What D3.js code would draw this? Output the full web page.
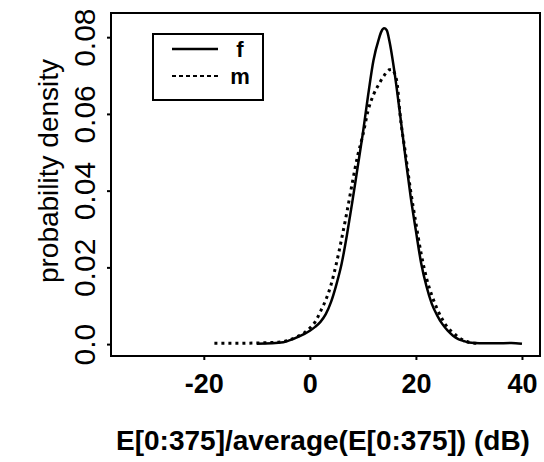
<!DOCTYPE html>
<html>
<head>
<meta charset="utf-8">
<script src="https://cdn.jsdelivr.net/npm/d3@7"></script>
<style>
  body { margin: 0; background: #fff; }
  svg { display: block; }
  text { font-family: "Liberation Sans", Arial, Helvetica, sans-serif; fill: #000; }
</style>
</head>
<body>
<svg id="chart" width="544" height="462"></svg>
<script>
// ---- data ----
const xTicks = [-20, 0, 20, 40];
const xTickLabels = ["-20", "0", "20", "40"];
const yTicks = [0, 0.02, 0.04, 0.06, 0.08];
const yTickLabels = ["0.0", "0.02", "0.04", "0.06", "0.08"];
const seriesNames = ["f", "m"];

const fX = [-10, -5, -4, -2, 0, 1, 2, 3, 4, 5, 6, 7, 8, 9, 10, 11, 12, 13, 13.5, 14, 14.5, 15, 16, 17, 18, 19, 20, 21, 22, 23, 24, 25, 26, 27, 28, 29, 30, 32, 35, 38, 40];
const fY = [0.0001, 0.0005, 0.0009, 0.0020, 0.0035, 0.0045, 0.0058, 0.0078, 0.0110, 0.0155, 0.0210, 0.0285, 0.0370, 0.0460, 0.0550, 0.0650, 0.0740, 0.0795, 0.0815, 0.0823, 0.0818, 0.0790, 0.0705, 0.0600, 0.0490, 0.0385, 0.0295, 0.0210, 0.0150, 0.0105, 0.0075, 0.0052, 0.0035, 0.0022, 0.0013, 0.0008, 0.0004, 0.0002, 0.0002, 0.0003, 0.0001];

const mX = [-18, -15, -10, -6, -4, -2, -1, 0, 1, 2, 3, 4, 5, 6, 7, 8, 9, 10, 11, 12, 13, 14, 15, 15.5, 16, 16.5, 17, 18, 19, 20, 21, 22, 23, 24, 25, 26, 27, 28, 29, 30, 32];
const mY = [0.0002, 0.0002, 0.0003, 0.0005, 0.0010, 0.0022, 0.0030, 0.0042, 0.0058, 0.0085, 0.0115, 0.0155, 0.0210, 0.0275, 0.0345, 0.0420, 0.0490, 0.0545, 0.0610, 0.0650, 0.0677, 0.0700, 0.0715, 0.0716, 0.0705, 0.0675, 0.0600, 0.0500, 0.0400, 0.0315, 0.0235, 0.0172, 0.0127, 0.0092, 0.0064, 0.0043, 0.0030, 0.0018, 0.0010, 0.0005, 0.0002];

const xTitle = "E[0:375]/average(E[0:375]) (dB)";
const yTitle = "probability density";

// ---- layout ----
const plotL = 111, plotR = 540, plotT = 13, plotB = 356;
const svg = d3.select("#chart");

const x = d3.scaleLinear().domain([-37.5, 43.4]).range([plotL, plotR]);
const y = d3.scaleLinear().domain([-0.0031, 0.0863]).range([plotB, plotT]);

// frame
svg.append("rect")
  .attr("x", plotL).attr("y", plotT)
  .attr("width", plotR - plotL).attr("height", plotB - plotT)
  .attr("fill", "none").attr("stroke", "#000").attr("stroke-width", 2);

// x axis
const xAxis = svg.append("g")
  .attr("transform", `translate(0,${plotB})`)
  .call(d3.axisBottom(x).tickValues(xTicks).tickSize(4).tickPadding(14)
    .tickFormat((d, i) => xTickLabels[i]));
xAxis.select(".domain").remove();
xAxis.selectAll("line").attr("stroke-width", 2);
xAxis.selectAll("text")
  .attr("font-size", 27).attr("font-weight", "bold")
  .style("font-family", "'Liberation Sans', Arial, sans-serif");

// y axis
const yAxis = svg.append("g")
  .attr("transform", `translate(${plotL},0)`)
  .call(d3.axisLeft(y).tickValues(yTicks).tickSize(4)
    .tickFormat((d, i) => yTickLabels[i]));
yAxis.select(".domain").remove();
yAxis.selectAll("line").attr("stroke-width", 2);
yAxis.selectAll("text")
  .attr("x", null).attr("dy", null)
  .attr("transform", "translate(-16,0) rotate(-90)")
  .attr("text-anchor", "middle")
  .attr("font-size", 30)
  .style("font-family", "'Liberation Sans', Arial, sans-serif");

// titles
svg.append("text")
  .attr("x", 323).attr("y", 450)
  .attr("text-anchor", "middle")
  .attr("font-size", 28).attr("font-weight", "bold")
  .text(xTitle);

svg.append("text")
  .attr("transform", `translate(58,171) rotate(-90)`)
  .attr("text-anchor", "middle")
  .attr("font-size", 28)
  .text(yTitle);

// curves
const line = d3.line().x(d => x(d[0])).y(d => y(d[1])).curve(d3.curveMonotoneX);
const fData = fX.map((v, i) => [v, fY[i]]);
const mData = mX.map((v, i) => [v, mY[i]]);

svg.append("path").datum(fData)
  .attr("d", line).attr("fill", "none")
  .attr("stroke", "#000").attr("stroke-width", 2.5);

svg.append("path").datum(mData)
  .attr("d", line).attr("fill", "none")
  .attr("stroke", "#000").attr("stroke-width", 3)
  .attr("stroke-dasharray", "3,4");

// legend
const lg = svg.append("g");
lg.append("rect")
  .attr("x", 153).attr("y", 34).attr("width", 110).attr("height", 66)
  .attr("fill", "#fff").attr("stroke", "#000").attr("stroke-width", 2);
const legY = [49, 76];
const styles = [{ w: 2.5, dash: null }, { w: 2, dash: "4,3" }];
seriesNames.forEach((n, i) => {
  lg.append("line")
    .attr("x1", 172).attr("x2", 218).attr("y1", legY[i]).attr("y2", legY[i])
    .attr("stroke", "#000").attr("stroke-width", styles[i].w)
    .attr("stroke-dasharray", styles[i].dash);
  lg.append("text")
    .attr("x", 240).attr("y", legY[i]).attr("dy", "0.35em")
    .attr("text-anchor", "middle")
    .attr("font-size", 22).attr("font-weight", "bold")
    .text(n);
});
</script>
</body>
</html>
